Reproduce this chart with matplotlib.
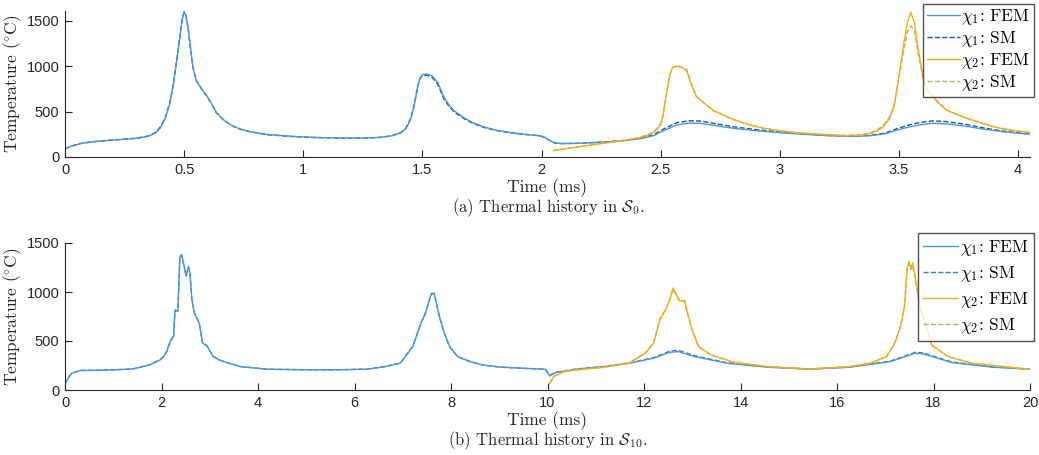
import matplotlib
matplotlib.use("Agg")
import matplotlib.pyplot as plt

plt.rcParams['mathtext.fontset'] = 'cm'
plt.rcParams['font.family'] = ['Liberation Sans', 'DejaVu Sans']
SERIF = 'cmr10'

# ---- S9 thermal history (time in ms, temperature in C) ----
t_a1 = [0, 0.03, 0.07, 0.12, 0.18, 0.25, 0.30, 0.35, 0.38, 0.40, 0.42, 0.44, 0.455, 0.47, 0.482,
        0.492, 0.50, 0.508, 0.517, 0.527, 0.537, 0.551, 0.57, 0.594, 0.615, 0.636, 0.67, 0.705,
        0.74, 0.776, 0.85, 0.95, 1.05, 1.15, 1.25, 1.32, 1.37, 1.41, 1.43, 1.45, 1.465, 1.48,
        1.49, 1.50, 1.52, 1.54, 1.565, 1.59, 1.61, 1.63, 1.67, 1.71, 1.76, 1.81, 1.88, 1.95,
        1.99, 2.01, 2.03, 2.05, 2.08, 2.15, 2.25, 2.35, 2.42, 2.47, 2.52, 2.57, 2.62, 2.67,
        2.72, 2.8, 2.9, 3.0, 3.1, 3.2, 3.3, 3.38, 3.44, 3.49, 3.54, 3.59, 3.64, 3.7, 3.78,
        3.86, 3.94, 4.0, 4.05]
fem_a1 = [88, 122, 150, 168, 182, 195, 205, 228, 265, 320, 420, 590, 800, 1080, 1320,
          1520, 1600, 1560, 1420, 1200, 990, 840, 760, 680, 590, 490, 400, 340,
          305, 280, 248, 228, 216, 210, 208, 215, 232, 266, 310, 410, 560, 770,
          870, 910, 915, 897, 820, 660, 580, 516, 440, 380, 330, 295, 265, 245,
          235, 222, 190, 160, 148, 150, 162, 180, 205, 235, 300, 355, 375, 370,
          350, 318, 290, 268, 250, 235, 228, 235, 255, 295, 330, 355, 372, 365, 340,
          305, 278, 262, 252]
sm_a1 = [88, 124, 152, 170, 184, 197, 208, 232, 270, 330, 430, 600, 810, 1090, 1330,
         1525, 1598, 1555, 1410, 1190, 985, 845, 765, 675, 585, 485, 398, 338,
         303, 278, 246, 226, 214, 209, 208, 216, 234, 270, 318, 420, 570, 775,
         865, 900, 900, 880, 800, 640, 565, 505, 430, 372, 325, 292, 263, 244,
         234, 220, 188, 158, 148, 151, 164, 183, 210, 245, 320, 380, 400, 396,
         372, 335, 302, 276, 255, 238, 230, 238, 262, 310, 352, 382, 398, 390, 360,
         318, 285, 266, 255]

t_a2 = [2.05, 2.15, 2.25, 2.35, 2.41, 2.45, 2.48, 2.5, 2.51, 2.52, 2.53, 2.54, 2.55, 2.57,
        2.59, 2.61, 2.63, 2.65, 2.68, 2.72, 2.79, 2.86, 2.93, 3.0, 3.07, 3.14, 3.21, 3.28,
        3.34, 3.39, 3.43, 3.46, 3.48, 3.5, 3.52, 3.535, 3.55, 3.565, 3.58, 3.6, 3.62, 3.66,
        3.7, 3.77, 3.84, 3.91, 3.98, 4.05]
fem_a2 = [72, 110, 148, 185, 212, 245, 290, 353, 450, 625, 780, 918, 990, 1000,
          985, 940, 790, 665, 600, 516, 430, 364, 320, 288, 268, 255, 245, 236,
          240, 265, 320, 420, 560, 900, 1250, 1480, 1595, 1480, 1200, 900, 740, 610,
          516, 440, 378, 325, 290, 270]
sm_a2 = [72, 112, 150, 186, 214, 250, 300, 370, 470, 640, 790, 925, 985, 1010,
         990, 965, 800, 670, 598, 512, 428, 362, 318, 287, 267, 254, 244, 238,
         245, 275, 335, 440, 580, 880, 1180, 1380, 1445, 1390, 1150, 880, 735, 620,
         520, 442, 380, 327, 292, 272]

# ---- S10 thermal history ----
t_b1 = [0, 0.05, 0.14, 0.31, 0.6, 1.0, 1.41, 1.76, 1.97, 2.05, 2.11, 2.18, 2.25, 2.28, 2.34,
        2.38, 2.42, 2.47, 2.51, 2.56, 2.59, 2.63, 2.68, 2.73, 2.78, 2.85, 2.94, 3.07, 3.2,
        3.35, 3.63, 4.18, 5.0, 5.56, 6.25, 6.6, 6.95, 7.21, 7.38, 7.46, 7.59, 7.65, 7.76,
        7.84, 7.97, 8.14, 8.4, 8.65, 9.0, 9.49, 9.96, 10.04, 10.17, 10.59, 11.18, 11.69,
        12.2, 12.54, 12.71, 13.05, 13.72, 14.57, 15.42, 16.26, 17.11, 17.62, 17.79, 18.38,
        19.23, 20.0]
fem_b1 = [60, 110, 171, 198, 200, 205, 215, 256, 307, 340, 392, 495, 546, 819, 802,
          1365, 1382, 1263, 1160, 1263, 1193, 922, 785, 734, 683, 478, 450, 341, 305,
          280, 239, 212, 206, 205, 212, 235, 273, 444, 683, 768, 983, 990, 751,
          614, 444, 341, 290, 256, 235, 222, 212, 143, 177, 212, 239, 273,
          324, 385, 392, 341, 273, 232, 212, 232, 290, 375, 368, 280,
          232, 212]
sm_b1 = [62, 112, 173, 200, 202, 206, 216, 258, 310, 345, 398, 500, 552, 810, 810,
         1350, 1375, 1250, 1170, 1250, 1180, 915, 790, 740, 690, 485, 455, 345, 308,
         282, 240, 213, 207, 206, 213, 237, 276, 450, 690, 775, 975, 985, 745,
         610, 440, 338, 288, 255, 234, 221, 211, 150, 180, 214, 241, 276,
         330, 398, 405, 350, 278, 235, 214, 234, 295, 385, 378, 286,
         235, 214]

t_b2 = [10.04, 10.13, 10.34, 10.76, 11.18, 11.69, 12.03, 12.2, 12.33, 12.45, 12.54, 12.6,
        12.67, 12.75, 12.84, 12.92, 13.0, 13.13, 13.39, 13.89, 14.57, 15.42, 16.26, 16.69,
        17.03, 17.2, 17.32, 17.4, 17.45, 17.49, 17.53, 17.57, 17.63, 17.72, 17.83, 17.96,
        18.3, 18.8, 19.65, 20.0]
fem_b2 = [61, 137, 188, 212, 232, 273, 375, 478, 717, 819, 922, 1041, 973, 905, 915,
          751, 614, 444, 358, 280, 239, 215, 239, 273, 341, 478, 649, 853, 1229, 1314,
          1246, 1297, 1127, 853, 683, 461, 341, 273, 229, 212]
sm_b2 = [65, 140, 190, 214, 234, 276, 380, 485, 725, 825, 930, 1030, 965, 900, 905,
         745, 610, 440, 356, 279, 238, 214, 238, 272, 345, 485, 660, 860, 1210, 1290,
         1230, 1275, 1110, 845, 680, 458, 340, 272, 228, 211]

c_fem1 = '#4d97d6'
c_sm1 = '#1b5a97'
c_fem2 = '#edb120'
c_sm2 = '#c9aa6e'
c_sm1_b = '#3c7fb8'

labels = [r'$\chi_1$: FEM', r'$\chi_1$: SM', r'$\chi_2$: FEM', r'$\chi_2$: SM']

fig = plt.figure(figsize=(10.39, 4.55), dpi=100)
ax1 = fig.add_axes([65/1039, 1 - 157/455, 965/1039, 146/455])
ax2 = fig.add_axes([65/1039, 1 - 390/455, 965/1039, 147/455])


def style_axes(ax):
    for side in ['top', 'right']:
        ax.spines[side].set_visible(False)
    for side in ['left', 'bottom']:
        ax.spines[side].set_color('#262626')
        ax.spines[side].set_linewidth(0.8)
    ax.tick_params(direction='in', length=5, width=0.8, color='#262626',
                   labelcolor='#262626', labelsize=10.5, pad=4)
    ax.set_ylabel(r'Temperature ($^{\circ}$C)', family=SERIF, fontsize=12.5, color='#262626')
    ax.set_xlabel('Time (ms)', family=SERIF, fontsize=12.5, color='#262626', labelpad=1)
    ax.yaxis.set_label_coords(-41/965, 0.5)


# (a)
l2, = ax1.plot(t_a1, sm_a1, '--', color=c_sm1, lw=1.0)
l1, = ax1.plot(t_a1, fem_a1, '-', color=c_fem1, lw=1.0)
l4, = ax1.plot(t_a2, sm_a2, '--', color=c_sm2, lw=1.0)
l3, = ax1.plot(t_a2, fem_a2, '-', color=c_fem2, lw=1.0)
ax1.set_xlim(0, 4.05)
ax1.set_ylim(0, 1610)
ax1.set_xticks([0, 0.5, 1, 1.5, 2, 2.5, 3, 3.5, 4])
ax1.set_xticklabels(['0', '0.5', '1', '1.5', '2', '2.5', '3', '3.5', '4'])
ax1.set_yticks([0, 500, 1000, 1500])
style_axes(ax1)
ax1.legend([l1, l2, l3, l4], labels, loc='upper right', bbox_to_anchor=(1.004, 1.05),
           prop={'family': SERIF, 'size': 12.5}, frameon=True, fancybox=False,
           edgecolor='#262626', handlelength=1.9, handletextpad=0.1, borderpad=0.2,
           labelspacing=0.12, borderaxespad=0.0)
fig.text(548/1039, 1 - 208/455, r'(a) Thermal history in $\mathcal{S}_9$.',
         family=SERIF, ha='center', va='center', fontsize=12, color='#262626')

# (b)
m2, = ax2.plot(t_b1, sm_b1, '--', color=c_sm1_b, lw=1.0)
m1, = ax2.plot(t_b1, fem_b1, '-', color=c_fem1, lw=1.0)
m4, = ax2.plot(t_b2, sm_b2, '--', color=c_sm2, lw=1.0)
m3, = ax2.plot(t_b2, fem_b2, '-', color=c_fem2, lw=1.0)
ax2.set_xlim(0, 20)
ax2.set_ylim(0, 1500)
ax2.set_xticks(range(0, 21, 2))
ax2.set_yticks([0, 500, 1000, 1500])
style_axes(ax2)
ax2.legend([m1, m2, m3, m4], labels, loc='upper right', bbox_to_anchor=(1.004, 1.07),
           prop={'family': SERIF, 'size': 12.5}, frameon=True, fancybox=False,
           edgecolor='#262626', handlelength=2.0, handletextpad=0.1, borderpad=0.3,
           labelspacing=0.35, borderaxespad=0.0)
fig.text(548/1039, 1 - 441/455, r'(b) Thermal history in $\mathcal{S}_{10}$.',
         family=SERIF, ha='center', va='center', fontsize=12, color='#262626')

plt.savefig('out.png', dpi=100)
